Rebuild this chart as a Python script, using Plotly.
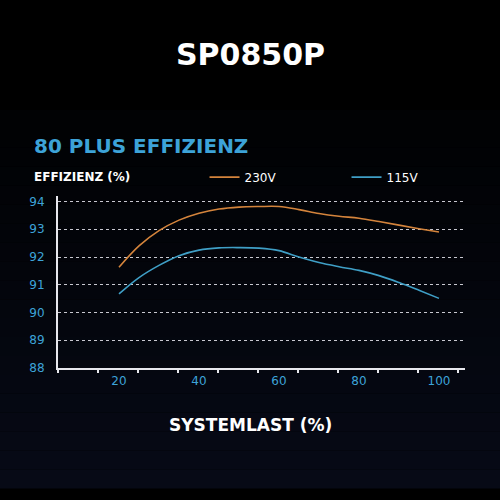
import plotly.graph_objects as go

load = [20, 25, 30, 35, 40, 45, 50, 55, 60, 65, 70, 75, 80, 85, 90, 95, 100]
eff_230v = [91.63, 92.4, 92.95, 93.33, 93.58, 93.73, 93.8, 93.82, 93.82,
            93.71, 93.57, 93.47, 93.4, 93.28, 93.15, 93.02, 92.9]
eff_115v = [90.67, 91.26, 91.7, 92.05, 92.25, 92.33, 92.34, 92.32, 92.23,
            92.0, 91.8, 91.65, 91.52, 91.33, 91.08, 90.8, 90.51]
x_labels = [20, 40, 60, 80, 100]
y_ticks = [88, 89, 90, 91, 92, 93, 94]
x_marks = [4.75 + 10 * k for k in range(11)]

FONT = "DejaVu Sans"
BLUE_TXT = "#3da3d8"

fig = go.Figure()
fig.add_trace(go.Scatter(x=load, y=eff_230v, name="230V", mode="lines",
                         line=dict(color="#d4843c", width=1.6, shape="spline")))
fig.add_trace(go.Scatter(x=load, y=eff_115v, name="115V", mode="lines",
                         line=dict(color="#3f9fc6", width=1.6, shape="spline")))
# invisible trace to carry the offset tick marks axis
fig.add_trace(go.Scatter(x=[x_marks[0]], y=[88], xaxis="x2", mode="lines",
                         showlegend=False, hoverinfo="skip"))

# dark gradient background, black at top to navy at bottom
n = 20
for i in range(n):
    t = i / (n - 1)
    r, g, b = int(1 + 6 * t), int(2 + 8 * t), int(4 + 18 * t)
    fig.add_shape(type="rect", xref="paper", yref="paper", layer="below",
                  x0=-0.2, x1=1.2, y0=1.5 - (i + 1) * 2.2 / n, y1=1.5 - i * 2.2 / n,
                  fillcolor=f"rgb({r},{g},{b})", line_width=0)

fig.update_layout(
    width=500, height=500,
    margin=dict(l=58, r=35, t=196, b=132, autoexpand=False),
    paper_bgcolor="#000000", plot_bgcolor="rgba(0,0,0,0)",
    font=dict(family=FONT, color="white"),
    showlegend=True,
    legend=dict(orientation="h", x=0.36, y=1.11, xanchor="left", yanchor="middle",
                bgcolor="rgba(0,0,0,0)", itemwidth=30, entrywidth=97,
                entrywidthmode="pixels", font=dict(size=12, color="white")),
    xaxis=dict(range=[4.75, 106.5], tickvals=x_labels, ticks="", showgrid=False,
               zeroline=False, showline=True, linecolor="#e8e8ee", linewidth=2,
               tickfont=dict(size=12, color=BLUE_TXT), ticklabelstandoff=1),
    xaxis2=dict(overlaying="x", range=[4.75, 106.5], tickvals=x_marks,
                ticks="outside", ticklen=4, tickwidth=2, tickcolor="#e8e8ee",
                showticklabels=False, showgrid=False, zeroline=False, side="bottom"),
    yaxis=dict(range=[88, 94.2], tickvals=y_ticks, ticks="", showgrid=True,
               gridcolor="#c8c8d0", griddash="dot", gridwidth=1.3, zeroline=False,
               showline=True, linecolor="#e8e8ee", linewidth=2,
               tickfont=dict(size=12, color=BLUE_TXT), ticklabelstandoff=9),
    annotations=[
        dict(text="<b>SP0850P</b>", x=0.472, y=1.82, xref="paper", yref="paper",
             xanchor="center", yanchor="middle", showarrow=False,
             font=dict(size=30, color="white")),
        dict(text="<b>80 PLUS EFFIZIENZ</b>", x=-0.063, y=1.29, xref="paper", yref="paper",
             xanchor="left", yanchor="middle", showarrow=False,
             font=dict(size=20, color=BLUE_TXT)),
        dict(text="<b>EFFIZIENZ (%)</b>", x=-0.063, y=1.11, xref="paper", yref="paper",
             xanchor="left", yanchor="middle", showarrow=False,
             font=dict(size=12, color="white")),
        dict(text="<b>SYSTEMLAST (%)</b>", x=0.472, y=-0.331, xref="paper", yref="paper",
             xanchor="center", yanchor="middle", showarrow=False,
             font=dict(size=17, color="white")),
    ],
)

fig.write_html("out.html", config={"displayModeBar": False},
               post_script="document.body.style.margin='0';")
